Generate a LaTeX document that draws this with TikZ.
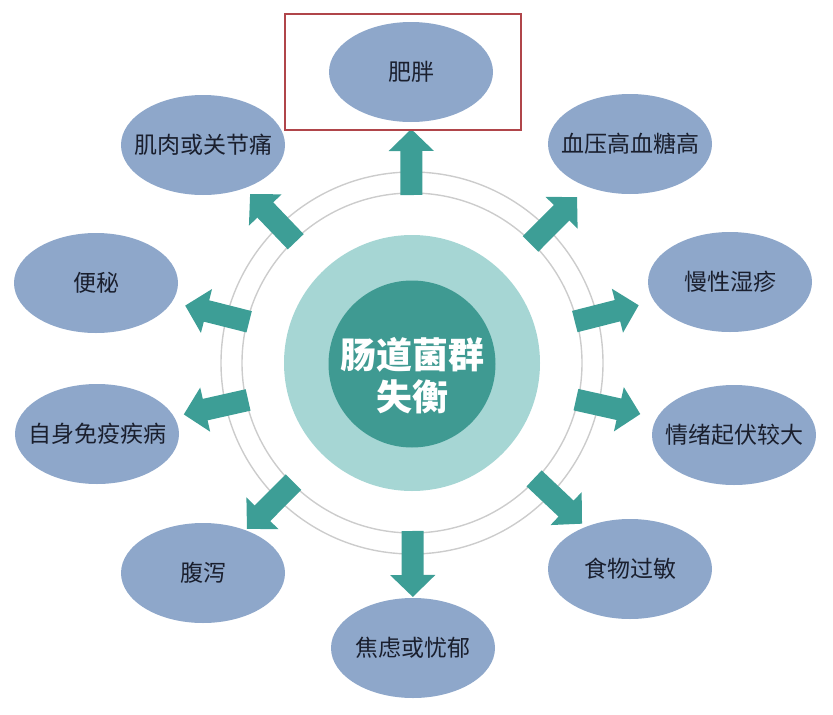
\documentclass[tikz,border=0pt]{standalone}
\usepackage{fontspec}
\newfontfamily\cjk{Noto Sans CJK SC}
\usetikzlibrary{arrows.meta,calc,shapes.geometric}
\definecolor{ovalblue}{HTML}{8EA7CA}
\definecolor{inkdark}{HTML}{1A1F2E}
\definecolor{arrowteal}{HTML}{3D9E96}
\definecolor{darkteal}{HTML}{3F9A92}
\definecolor{lightteal}{HTML}{A6D6D4}
\definecolor{ringgray}{HTML}{CCCCCC}
\definecolor{markred}{HTML}{B0454A}

\begin{document}
\begin{tikzpicture}[x=1pt,y=-1pt,
    oval/.style={ellipse,fill=ovalblue,minimum width=164pt,minimum height=100pt,inner xsep=-25pt,inner ysep=0pt,text=inkdark,font=\cjk\fontsize{23}{27}\selectfont},
    arr/.style={-{Triangle[width=44pt,length=22pt]},line width=22pt,draw=arrowteal},
    ring/.style={draw=ringgray,line width=1.4pt},
    hubtext/.style={align=center,text=white,font=\cjk\bfseries\fontsize{36}{42}\selectfont}
]
\useasboundingbox (0,0) rectangle (833,715);
% centre
\node[circle,fill=lightteal,minimum size=256pt,inner sep=0pt] (halo) at (412,363) {};
\node[circle,fill=darkteal,minimum size=167pt,inner sep=0pt] (hub) at (412,364) {};
\node[hubtext,yshift=-12pt] (hublabel) at (hub.center) {肠道菌群\\失衡};
\draw[ring] (halo.center) circle (170pt);
\draw[ring] (halo.center) circle (191pt);
% symptoms
\node[oval] (fat) at (411,72) {肥胖};
\node[oval] (bp) at (630,144) {血压高血糖高};
\node[oval] (eczema) at (730,282) {慢性湿疹};
\node[oval] (mood) at (734,435) {情绪起伏较大};
\node[oval] (allergy) at (630,569) {食物过敏};
\node[oval] (anxiety) at (413,648) {焦虑或忧郁};
\node[oval] (diarrhea) at (203,573) {腹泻};
\node[oval] (autoimmune) at (97,434) {自身免疫疾病};
\node[oval] (constipation) at (96,283) {便秘};
\node[oval] (pain) at (203,145) {肌肉或关节痛};
% arrows
\foreach \n in {fat,bp,eczema,mood,allergy,anxiety,diarrhea,autoimmune,constipation,pain}
  \draw[arr] ($(halo.center)!168pt!(\n)$) -- ($(halo.center)!234pt!(\n)$);
% highlight
\draw[markred,line width=1.2pt] ($(fat.center)+(-126,-58)$) rectangle ($(fat.center)+(110,58)$);
\end{tikzpicture}
\end{document}
